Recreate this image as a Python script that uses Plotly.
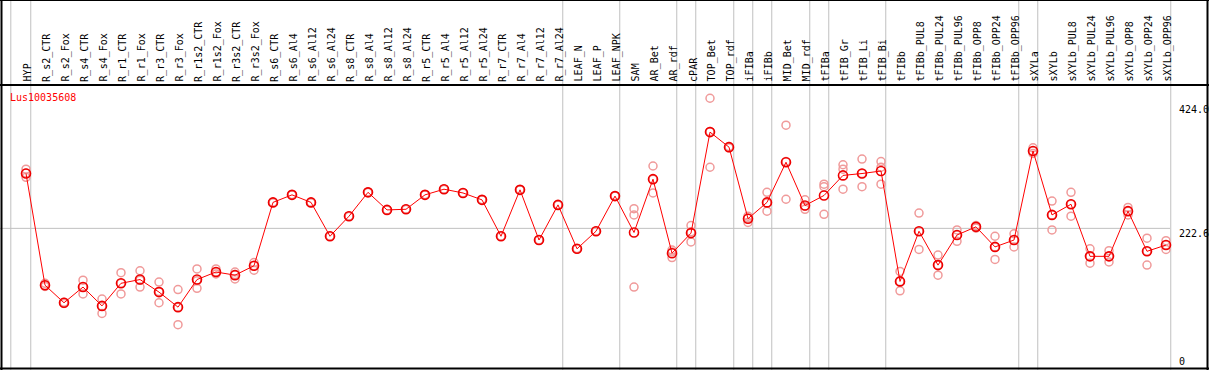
import plotly.graph_objects as go

categories = ["HYP", "R_s2_CTR", "R_s2_Fox", "R_s4_CTR", "R_s4_Fox", "R_r1_CTR", "R_r1_Fox",
              "R_r3_CTR", "R_r3_Fox", "R_r1s2_CTR", "R_r1s2_Fox", "R_r3s2_CTR", "R_r3s2_Fox",
              "R_s6_CTR", "R_s6_Al4", "R_s6_Al12", "R_s6_Al24", "R_s8_CTR", "R_s8_Al4", "R_s8_Al12",
              "R_s8_Al24", "R_r5_CTR", "R_r5_Al4", "R_r5_Al12", "R_r5_Al24", "R_r7_CTR", "R_r7_Al4",
              "R_r7_Al12", "R_r7_Al24", "LEAF_N", "LEAF_P", "LEAF_NPK", "SAM", "AR_Bet", "AR_rdf",
              "cPAR", "TOP_Bet", "TOP_rdf", "iFIBa", "iFIBb", "MID_Bet", "MID_rdf", "tFIBa",
              "tFIB_Gr", "tFIB_Li", "tFIB_Bi", "tFIBb", "tFIBb_PUL8", "tFIBb_PUL24", "tFIBb_PUL96",
              "tFIBb_OPP8", "tFIBb_OPP24", "tFIBb_OPP96", "sXYLa", "sXYLb", "sXYLb_PUL8",
              "sXYLb_PUL24", "sXYLb_PUL96", "sXYLb_OPP8", "sXYLb_OPP24", "sXYLb_OPP96"]

mean_values = [310, 132, 104, 129, 99, 135, 141, 121, 97, 141, 153, 148, 163,
               264, 276, 264, 210, 242, 280, 252, 253, 276, 285, 279, 268, 210, 284, 204, 260,
               190, 218, 274, 216, 301, 183, 215, 376, 352, 238, 264, 328, 259, 275,
               307, 310, 314, 138, 218, 164, 212, 225, 193, 204, 346, 244, 261, 178, 178, 250, 186, 196]

rep1 = [317, 135, 105, 140, 110, 152, 155, 137, 125, 158, 158, 153, 168,
        264, 276, 264, 210, 242, 280, 252, 253, 276, 285, 279, 268, 210, 284, 204, 260,
        190, 218, 274, 254, 322, 188, 227, 430, 353, 242, 280, 387, 268, 293,
        324, 333, 329, 154, 247, 180, 220, 227, 210, 214, 351, 266, 280, 190, 187, 256, 207, 203]

rep2 = [304, 130, 103, 118, 87, 118, 129, 104, 69, 127, 150, 142, 156,
        264, 276, 264, 210, 242, 280, 252, 253, 276, 285, 279, 268, 210, 284, 204, 260,
        190, 218, 274, 129, 279, 176, 201, 320, 351, 232, 250, 269, 253, 245,
        285, 289, 293, 123, 189, 148, 202, 223, 173, 193, 342, 220, 242, 167, 169, 244, 164, 189]

rep3 = [311, 132, 104, 129, 99, 135, 140, 122, 97, 139, 153, 149, 163,
        264, 276, 264, 210, 242, 280, 252, 253, 276, 285, 279, 268, 210, 284, 204, 260,
        190, 218, 274, 244, 301, 185, 217, 377, 352, 239, 263, 329, 258, 289,
        317, 310, 320, 138, 218, 164, 212, 225, 193, 204, 346, 244, 261, 178, 178, 250, 186, 196]

gene_name = "Lus10035608"
axis_labels = ["424.0", "222.6", "0"]
axis_values = [424.0, 222.6, 0.0]
group_ends = [-1, 0, 28, 31, 34, 35, 37, 38, 39, 41, 42, 45, 52, 53, 60]

W, H = 1209, 370
x_idx = list(range(len(categories)))

# pixel mapping: point i at 26 + 19*i px; value v at 368 - 0.6274*v px
px0, pstep = 26.0, 19.0
xr0 = -px0 / pstep
xr1 = xr0 + W / pstep
ybot, yscale = 368.0, 266.0 / 424.0
yr0 = -(H - ybot) / yscale
yr1 = ybot / yscale

def ypaper(py):
    return 1 - py / H

fig = go.Figure()

rep_color = "#f09a9a"
for reps in (rep1, rep2, rep3):
    fig.add_trace(go.Scatter(x=x_idx, y=reps, mode="markers",
                             marker=dict(symbol="circle-open", size=8, color=rep_color,
                                         line=dict(width=1.5, color=rep_color)),
                             showlegend=False, hoverinfo="skip"))

fig.add_trace(go.Scatter(x=x_idx, y=mean_values, mode="lines+markers",
                         line=dict(color="#ff0000", width=1),
                         marker=dict(symbol="circle-open", size=9, color="#ee0000",
                                     line=dict(width=1.6, color="#ee0000")),
                         showlegend=False))

shapes = []
# vertical group separators
for g in group_ends:
    xv = g + 0.25 if g >= 0 else -0.8
    shapes.append(dict(type="line", xref="x", yref="paper", x0=xv, x1=xv, y0=0, y1=1,
                       line=dict(color="#c0c0c0", width=1), layer="below"))
# horizontal mid gridline
shapes.append(dict(type="line", xref="paper", yref="y", x0=0, x1=1170 / W,
                   y0=axis_values[1], y1=axis_values[1],
                   line=dict(color="#c0c0c0", width=1), layer="below"))
# black frame
blk = dict(color="#000000", width=2)
shapes += [
    dict(type="line", xref="paper", yref="paper", x0=0, x1=1, y0=1, y1=1, line=blk),
    dict(type="line", xref="paper", yref="paper", x0=0, x1=1, y0=ypaper(85), y1=ypaper(85), line=blk),
    dict(type="line", xref="paper", yref="paper", x0=0, x1=1, y0=ypaper(368.5), y1=ypaper(368.5), line=blk),
    dict(type="line", xref="paper", yref="paper", x0=1.5 / W, x1=1.5 / W, y0=0, y1=1, line=blk),
    dict(type="line", xref="paper", yref="paper", x0=1207.5 / W, x1=1207.5 / W, y0=0, y1=1, line=blk),
]

annotations = []
mono = "DejaVu Sans Mono"
for i, c in enumerate(categories):
    annotations.append(dict(x=i + 0.1, y=ypaper(83.5), xref="x", yref="paper", text=c,
                            textangle=-90, xanchor="center", yanchor="bottom", showarrow=False,
                            font=dict(family=mono, size=10, color="#000000")))
annotations.append(dict(x=8 / W, y=ypaper(97.5), xref="paper", yref="paper", text=gene_name,
                        xanchor="left", yanchor="middle", showarrow=False,
                        font=dict(family=mono, size=10, color="#ff0000")))
label_centers = [109.5, 233.5, 361.5]
for lab, cy in zip(axis_labels, label_centers):
    annotations.append(dict(x=1177 / W, y=ypaper(cy), xref="paper", yref="paper", text=lab,
                            xanchor="left", yanchor="middle", showarrow=False,
                            font=dict(family=mono, size=10, color="#000000")))

fig.update_layout(
    width=W, height=H, margin=dict(l=0, r=0, t=0, b=0),
    paper_bgcolor="white", plot_bgcolor="white",
    xaxis=dict(range=[xr0, xr1], visible=False, fixedrange=True),
    yaxis=dict(range=[yr0, yr1], visible=False, fixedrange=True),
    shapes=shapes, annotations=annotations, showlegend=False,
)

fig.write_html("out.html", config={"displayModeBar": False},
               post_script="document.body.style.margin='0';document.body.style.overflow='hidden';")
